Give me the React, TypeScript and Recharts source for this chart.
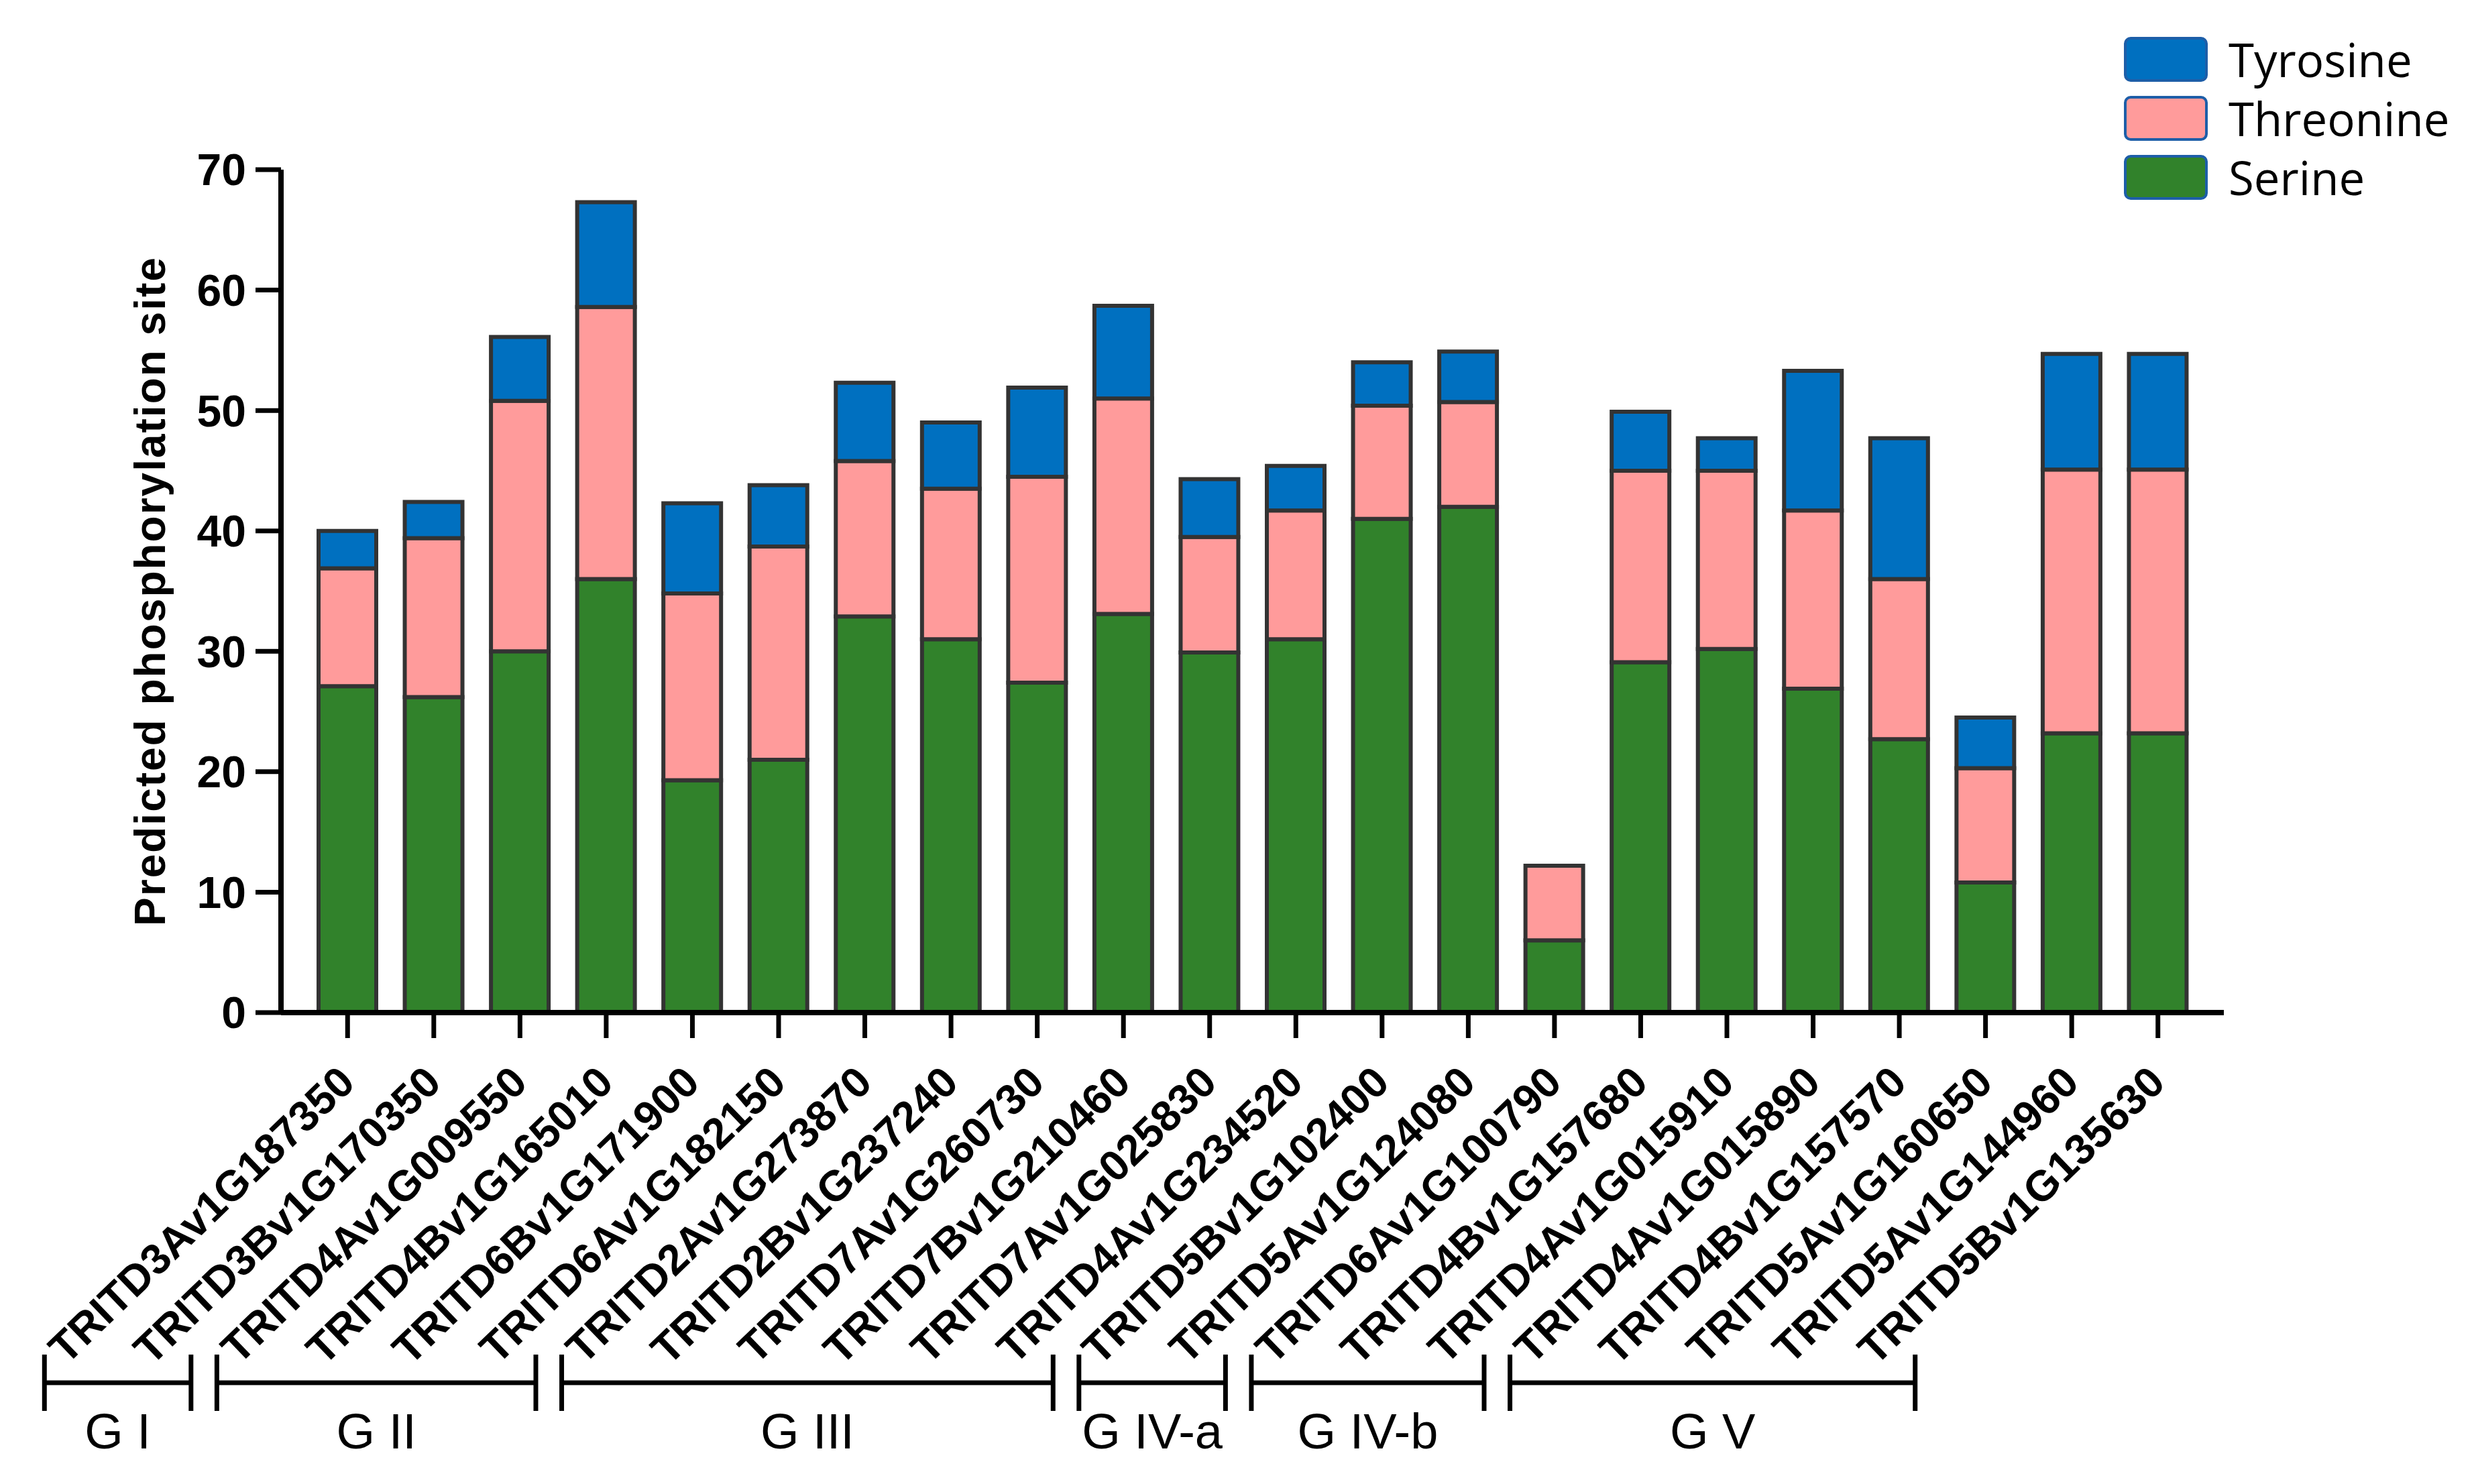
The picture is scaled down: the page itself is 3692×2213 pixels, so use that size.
import { BarChart, Bar, XAxis, YAxis, Legend } from "recharts";

const genes = [
  "TRITD3Av1G187350",
  "TRITD3Bv1G170350",
  "TRITD4Av1G009550",
  "TRITD4Bv1G165010",
  "TRITD6Bv1G171900",
  "TRITD6Av1G182150",
  "TRITD2Av1G273870",
  "TRITD2Bv1G237240",
  "TRITD7Av1G260730",
  "TRITD7Bv1G210460",
  "TRITD7Av1G025830",
  "TRITD4Av1G234520",
  "TRITD5Bv1G102400",
  "TRITD5Av1G124080",
  "TRITD6Av1G100790",
  "TRITD4Bv1G157680",
  "TRITD4Av1G015910",
  "TRITD4Av1G015890",
  "TRITD4Bv1G157570",
  "TRITD5Av1G160650",
  "TRITD5Av1G144960",
  "TRITD5Bv1G135630",
];

const serine = [27.1, 26.2, 30.0, 36.0, 19.3, 21.0, 32.9, 31.0, 27.4, 33.1, 29.9, 31.0, 41.0, 42.0, 6.0, 29.1, 30.2, 26.9, 22.7, 10.8, 23.2, 23.2];
const threonine = [9.8, 13.2, 20.8, 22.6, 15.5, 17.7, 12.9, 12.5, 17.1, 17.9, 9.6, 10.7, 9.4, 8.7, 6.2, 15.9, 14.8, 14.8, 13.3, 9.5, 21.9, 21.9];
const tyrosine = [3.1, 3.0, 5.3, 8.7, 7.5, 5.1, 6.5, 5.5, 7.4, 7.7, 4.8, 3.7, 3.6, 4.2, 0, 4.9, 2.7, 11.6, 11.7, 4.2, 9.6, 9.6];

const yTicks = [0, 10, 20, 30, 40, 50, 60, 70];

// gene groups, by first and last gene index
const groupNames = ["G I", "G II", "G III", "G IV-a", "G IV-b", "G V"];
const groupFirst = [0, 2, 6, 12, 14, 17];
const groupLast = [1, 5, 11, 13, 16, 21];

const seriesNames = ["Serine", "Threonine", "Tyrosine"];
const seriesColors = ["#31822b", "#ff9b9b", "#0070c0"];

const data = genes.map((gene, i) => ({
  gene,
  Serine: serine[i],
  Threonine: threonine[i],
  Tyrosine: tyrosine[i],
}));

const W = 3692;
const H = 2213;
const PLOT_LEFT = 419;
const PLOT_TOP = 253;
const PLOT_RIGHT = 3316;
const PLOT_BOTTOM = 1510;
const PAD_L = 35;
const PAD_R = 34;
const BAND = (PLOT_RIGHT - PLOT_LEFT - PAD_L - PAD_R) / genes.length;

const FONT = "'Liberation Sans', Arial, sans-serif";

const GeneTick = (props: any) => {
  const { x, y, payload } = props;
  const i = payload.index;
  const tx = x + 14;
  const ty = y + 70;
  const g = groupFirst.indexOf(i);
  let bracket = null;
  if (g >= 0) {
    const x1 = x - 452;
    const x2 = x + (groupLast[g] - i) * BAND - 362;
    bracket = (
      <g stroke="#000" strokeWidth={7}>
        <line x1={x1} x2={x2} y1={y + 514} y2={y + 514} />
        <line x1={x1} x2={x1} y1={y + 472} y2={y + 556} />
        <line x1={x2} x2={x2} y1={y + 472} y2={y + 556} />
        <text
          x={(x1 + x2) / 2}
          y={y + 612}
          textAnchor="middle"
          stroke="none"
          fill="#000"
          fontSize={74}
          fontFamily={FONT}
        >
          {groupNames[g]}
        </text>
      </g>
    );
  }
  return (
    <g>
      <text
        x={tx}
        y={ty}
        textAnchor="end"
        transform={`rotate(-44, ${tx}, ${ty})`}
        fontSize={64}
        fontWeight="bold"
        fontFamily={FONT}
        fill="#000"
      >
        {payload.value}
      </text>
      {bracket}
    </g>
  );
};

const YLabel = (props: any) => {
  const { viewBox } = props;
  const cx = viewBox.x + 224;
  const cy = viewBox.y + viewBox.height / 2;
  return (
    <text
      x={cx}
      y={cy}
      textAnchor="middle"
      dominantBaseline="central"
      transform={`rotate(-90, ${cx}, ${cy})`}
      fontSize={64}
      fontWeight="bold"
      letterSpacing={2}
      fontFamily={FONT}
      fill="#000"
    >
      Predicted phosphorylation site
    </text>
  );
};

const LegendContent = () => (
  <div style={{ display: "flex", flexDirection: "column" }}>
    {[2, 1, 0].map((k) => (
      <div key={seriesNames[k]} style={{ display: "flex", alignItems: "center", height: 88 }}>
        <div
          style={{
            width: 117,
            height: 59,
            background: seriesColors[k],
            border: "4px solid #1d5ea8",
            borderRadius: 10,
          }}
        />
        <span
          style={{
            marginLeft: 31,
            fontSize: 69,
            fontFamily: "'Open Sans', sans-serif",
            color: "#000",
            lineHeight: 1,
          }}
        >
          {seriesNames[k]}
        </span>
      </div>
    ))}
  </div>
);

export default function App() {
  return (
    <div style={{ position: "absolute", left: 0, top: 0, width: W, height: H, background: "#fff" }}>
      <BarChart
        width={W}
        height={H}
        data={data}
        margin={{ top: PLOT_TOP, right: W - PLOT_RIGHT, left: 0, bottom: 0 }}
        barSize={86}
      >
        <XAxis
          dataKey="gene"
          interval={0}
          height={H - PLOT_BOTTOM}
          padding={{ left: PAD_L, right: PAD_R }}
          axisLine={{ stroke: "#000", strokeWidth: 8 }}
          tickLine={{ stroke: "#000", strokeWidth: 7 }}
          tickSize={38}
          tickMargin={0}
          tick={<GeneTick />}
        />
        <YAxis
          width={PLOT_LEFT}
          domain={[0, 70]}
          ticks={yTicks}
          interval={0}
          axisLine={{ stroke: "#000", strokeWidth: 8 }}
          tickLine={{ stroke: "#000", strokeWidth: 7 }}
          tickSize={38}
          tickMargin={14}
          tick={{ fill: "#000", fontSize: 66, fontWeight: "bold", fontFamily: FONT }}
          label={<YLabel />}
        />
        <Legend
          layout="vertical"
          align="center"
          verticalAlign="middle"
          content={<LegendContent />}
          wrapperStyle={{ top: 44, left: 3167, width: 520 }}
        />
        {seriesNames.map((name, k) => (
          <Bar
            key={name}
            dataKey={name}
            stackId="a"
            fill={seriesColors[k]}
            stroke="#333"
            strokeWidth={6}
            isAnimationActive={false}
          />
        ))}
      </BarChart>
    </div>
  );
}
